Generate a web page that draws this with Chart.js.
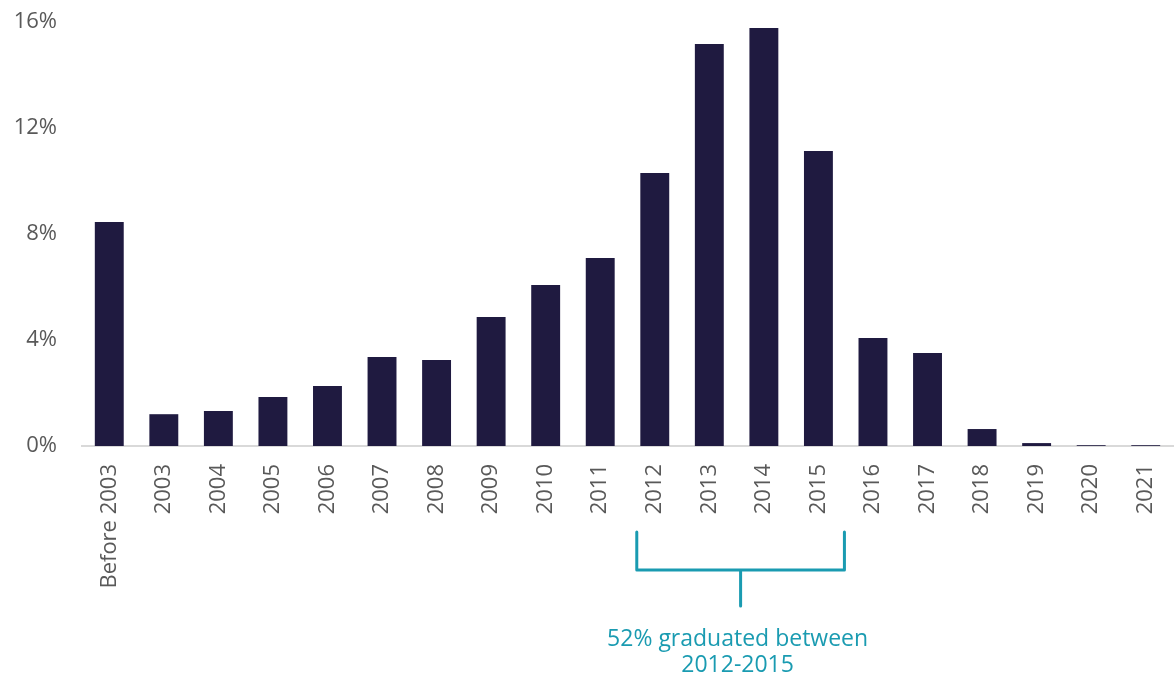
<!DOCTYPE html>
<html>
<head>
<meta charset="utf-8">
<script src="https://cdn.jsdelivr.net/npm/chart.js@4"></script>
<style>
html,body{margin:0;padding:0;background:#fff;}
#wrap{width:1176px;height:678px;position:relative;}
</style>
</head>
<body>
<div id="wrap"><canvas id="gradChart"></canvas></div>
<script>
const years = ["Before 2003","2003","2004","2005","2006","2007","2008","2009","2010","2011","2012","2013","2014","2015","2016","2017","2018","2019","2020","2021"];
const shares = [8.45,1.2,1.32,1.85,2.26,3.36,3.25,4.87,6.08,7.09,10.3,15.17,15.77,11.13,4.08,3.51,0.64,0.11,0.03,0.03];
const yTicks = [0,4,8,12,16];
const noteLines = ["52% graduated between","2012-2015"];
const bracketFrom = "2012";
const bracketTo = "2015";

const teal = "#1a9bb1";
const labelFont = "Open Sans";

// bracket under the x labels with a note
const bracketPlugin = {
id:"bracket",
afterDraw(chart){
const ctx = chart.ctx;
const x = chart.scales.x;
const left = x.getPixelForValue(years.indexOf(bracketFrom)) - 18;
const right = x.getPixelForValue(years.indexOf(bracketTo)) + 26;
const mid = (left + right) / 2;
const top = 532, bar = 570, stem = 606;

ctx.save();
ctx.strokeStyle = teal;
ctx.lineWidth = 3;
ctx.lineJoin = "round";
ctx.lineCap = "round";
ctx.beginPath();
ctx.moveTo(left, top);
ctx.lineTo(left, bar);
ctx.lineTo(right, bar);
ctx.lineTo(right, top);
ctx.moveTo(mid, bar);
ctx.lineTo(mid, stem);
ctx.stroke();

ctx.fillStyle = teal;
ctx.font = "23px '" + labelFont + "'";
ctx.textAlign = "center";
ctx.textBaseline = "middle";
ctx.fillText(noteLines[0], mid - 3, 639);
ctx.fillText(noteLines[1], mid - 3, 665);
ctx.restore();
}
};

new Chart(document.getElementById("gradChart"),{

type:"bar",

data:{
labels:years,
datasets:[{
data:shares,
backgroundColor:"#1f1a40",
categoryPercentage:1,
barPercentage:0.53
}]
},

plugins:[bracketPlugin],

options:{
responsive:true,
maintainAspectRatio:false,
animation:false,
layout:{padding:{top:22,right:3}},
plugins:{legend:{display:false},tooltip:{enabled:false}},
scales:{
x:{
grid:{display:false},
border:{display:true,color:"#d9d9d9",width:2},
ticks:{
color:"#595959",
font:{family:labelFont,size:22},
maxRotation:90,
minRotation:90,
padding:10,
autoSkip:false
},
afterFit(s){ s.height = 232; s.paddingLeft = 0; s.paddingRight = 0; }
},
y:{
min:0,
max:16,
grid:{display:false},
border:{display:false},
afterBuildTicks(s){ s.ticks = yTicks.map(v => ({value:v})); },
ticks:{
color:"#595959",
font:{family:labelFont,size:22},
padding:17,
callback:v => v + "%"
},
afterFit(s){ s.width = 82; s.paddingTop = 0; s.paddingBottom = 0; }
}
}
}

});
</script>
</body>
</html>
